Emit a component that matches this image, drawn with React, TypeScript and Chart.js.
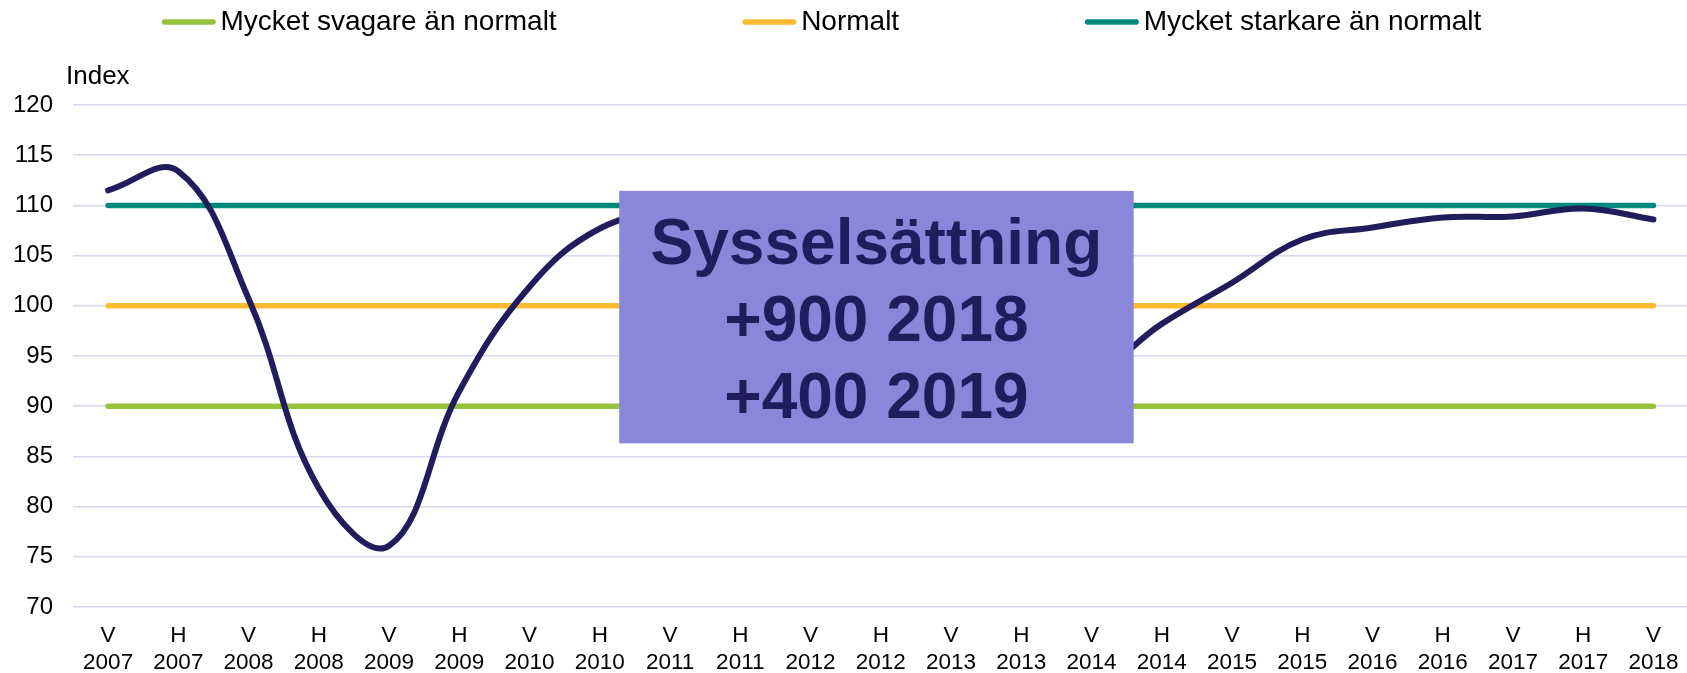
import { useEffect, useRef } from 'react';
import { Chart, registerables } from 'chart.js';

Chart.register(...registerables);

// ---- data ----
const halfYears = ['V', 'H', 'V', 'H', 'V', 'H', 'V', 'H', 'V', 'H', 'V', 'H', 'V', 'H', 'V', 'H', 'V', 'H', 'V', 'H', 'V', 'H', 'V'];
const years = ['2007', '2007', '2008', '2008', '2009', '2009', '2010', '2010', '2011', '2011', '2012', '2012', '2013', '2013', '2014', '2014', '2015', '2015', '2016', '2016', '2017', '2017', '2018'];
const employmentIndex = [111.5, 113.4, 100.7, 81.8, 76.1, 91.5, 101.9, 107.7, 109.3, 108.8, 105.5, 100.5, 96.0, 93.0, 93.2, 98.2, 102.3, 106.6, 107.8, 108.8, 108.9, 109.7, 108.6];
const weakLevel = 90;
const normalLevel = 100;
const strongLevel = 110;
const legendLabels = ['Mycket svagare än normalt', 'Normalt', 'Mycket starkare än normalt'];
const yTicksMin = 70;
const yTicksMax = 120;
const yTickStep = 5;
const yAxisTitle = 'Index';
const boxLines = ['Sysselsättning', '+900 2018', '+400 2019'];
// annotation box extent in data units (category index / index value)
const boxFromIndex = 7.276;
const boxToIndex = 14.6;
const boxTopValue = 111.45;
const boxBottomValue = 86.3;

// ---- styles ----
const NAVY = '#211d5c';
const GREEN = '#96c33c';
const YELLOW = '#fdbb33';
const TEAL = '#008a7e';
const BOX = '#8a86da';
const GRID = '#d8d7f2';
const FONT = 'Arial, "Liberation Sans", sans-serif';

const categories = halfYears.map((h, i) => [h, years[i]]);
const flat = (v: number) => categories.map(() => v);

const overlayPlugin = {
  id: 'overlay',
  afterDatasetsDraw(chart: any) {
    const { ctx, scales } = chart;
    const x = scales.x;
    const y = scales.y;
    const left = x.getPixelForValue(boxFromIndex);
    const right = x.getPixelForValue(boxToIndex);
    const top = y.getPixelForValue(boxTopValue);
    const bottom = y.getPixelForValue(boxBottomValue);
    ctx.save();
    ctx.fillStyle = BOX;
    ctx.fillRect(left, top, right - left, bottom - top);
    ctx.fillStyle = NAVY;
    ctx.font = `bold 64px ${FONT}`;
    ctx.textAlign = 'center';
    ctx.textBaseline = 'middle';
    const cx = (left + right) / 2;
    const cy = (top + bottom) / 2 + 6;
    boxLines.forEach((line, i) => {
      ctx.fillText(line, cx, cy + (i - 1) * 77);
    });
    ctx.restore();
  },
  afterDraw(chart: any) {
    const { ctx, chartArea } = chart;
    ctx.save();
    // y-axis title
    ctx.fillStyle = '#000';
    ctx.font = `26px ${FONT}`;
    ctx.textAlign = 'left';
    ctx.textBaseline = 'middle';
    ctx.fillText(yAxisTitle, 66, chartArea.top - 28);
    // legend
    const colors = [GREEN, YELLOW, TEAL];
    ctx.font = `28px ${FONT}`;
    let xPos = 162;
    const yPos = 22;
    legendLabels.forEach((label, i) => {
      ctx.strokeStyle = colors[i];
      ctx.lineWidth = 5.5;
      ctx.lineCap = 'round';
      ctx.beginPath();
      ctx.moveTo(xPos + 2.5, yPos);
      ctx.lineTo(xPos + 51, yPos);
      ctx.stroke();
      ctx.fillStyle = '#000';
      ctx.fillText(label, xPos + 58.5, yPos);
      const w = ctx.measureText(label).width;
      xPos += 58.5 + w + 186;
    });
    ctx.restore();
  },
};

export default function App() {
  const ref = useRef<HTMLCanvasElement | null>(null);
  useEffect(() => {
    if (!ref.current) return;
    const lineDs = (label: string, value: number, color: string) => ({
      label,
      data: flat(value),
      borderColor: color,
      backgroundColor: color,
      borderWidth: 5.5,
      borderCapStyle: 'round' as const,
      pointRadius: 0,
      tension: 0,
      order: 1,
    });
    const chart = new Chart(ref.current, {
      type: 'line',
      data: {
        labels: categories,
        datasets: [
          {
            label: 'Sysselsättning',
            data: employmentIndex,
            borderColor: NAVY,
            backgroundColor: NAVY,
            borderWidth: 6,
            borderCapStyle: 'round',
            pointRadius: 0,
            tension: 0.4,
            order: 0,
          },
          lineDs(legendLabels[0], weakLevel, GREEN),
          lineDs(legendLabels[1], normalLevel, YELLOW),
          lineDs(legendLabels[2], strongLevel, TEAL),
        ],
      },
      options: {
        responsive: false,
        animation: false,
        layout: { padding: { top: 105, left: 13, right: 0, bottom: 0 } },
        plugins: {
          legend: { display: false },
          tooltip: { enabled: false },
        },
        scales: {
          x: {
            offset: true,
            grid: { display: false, drawTicks: false },
            border: { display: false },
            afterFit: (axis: any) => {
              axis.height = 66;
            },
            ticks: {
              color: '#000',
              font: { family: FONT, size: 22.5, lineHeight: 1.2 },
              padding: 15.5,
              maxRotation: 0,
              autoSkip: false,
            },
          },
          y: {
            min: yTicksMin,
            max: yTicksMax,
            grid: { color: GRID, lineWidth: 1.5, drawTicks: false },
            border: { display: false },
            afterFit: (axis: any) => {
              axis.width = 60;
            },
            ticks: {
              stepSize: yTickStep,
              color: '#000',
              font: { family: FONT, size: 24 },
              padding: 20,
            },
          },
        },
      },
      plugins: [overlayPlugin],
    });
    return () => chart.destroy();
  }, []);
  return (
    <div style={{ position: 'absolute', left: 0, top: 0, width: 1687, height: 673, overflow: 'hidden', background: '#fff' }}>
      <canvas ref={ref} width={1694} height={673} style={{ display: 'block' }} />
    </div>
  );
}
